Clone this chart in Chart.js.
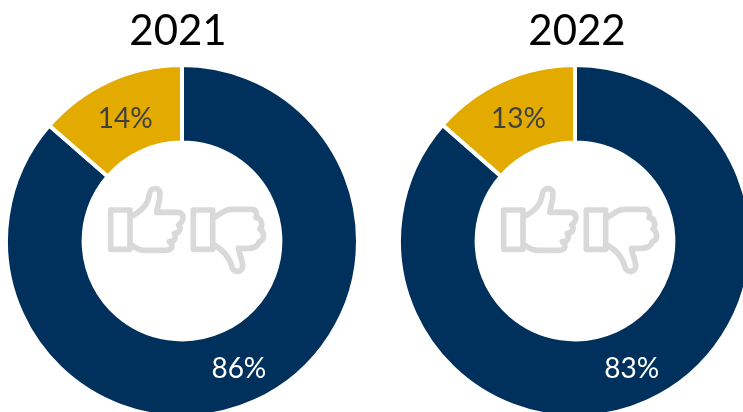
<!DOCTYPE html>
<html>
<head>
<meta charset="utf-8">
<style>
html, body { margin: 0; padding: 0; width: 743px; height: 412px; overflow: hidden; background: #fff; }
canvas { position: absolute; top: 0; }
</style>
<script src="https://cdn.jsdelivr.net/npm/chart.js@4"></script>
</head>
<body>
<canvas id="chart2021" width="360" height="421" style="left:2px"></canvas>
<canvas id="chart2022" width="360" height="421" style="left:395px"></canvas>
<script>
const categories = ['Favorable', 'Unfavorable'];
const values2021 = [86.4, 13.6];
const values2022 = [83, 13];
const sliceColors = ['#00305c', '#e3ab00'];
const labelColors = ['#ffffff', '#404040'];
const labelNudge = [3, 3];

// thumbs drawn in the middle of each ring
const thumbUp = 'M92 120H150V238H92Z M150 142C190 120 205 100 208 72C212 50 240 50 240 72C240 95 232 110 230 127H293C312 127 315 150 296 165C306 178 296 190 283 190C290 205 283 215 268 215C283 228 276 241 256 241H195C175 241 165 232 150 222';
const thumbDown = 'M340 120H398V238H340Z M398 145C420 135 430 118 455 118H515C530 118 532 135 528 143C545 145 550 165 540 177C553 185 556 210 538 215C533 232 520 235 505 235H475C478 255 488 270 488 288C488 308 462 310 456 292C450 265 430 240 398 222';

const ringMarks = {
    id: 'ringMarks',
    afterDatasetsDraw(chart, args, opts) {
        const ctx = chart.ctx;
        const arcs = chart.getDatasetMeta(0).data;
        const data = chart.data.datasets[0].data;
        ctx.save();
        ctx.font = '28px Lato';
        ctx.textAlign = 'center';
        ctx.textBaseline = 'middle';
        arcs.forEach((arc, i) => {
            const pos = arc.tooltipPosition();
            ctx.fillStyle = labelColors[i];
            ctx.fillText(Math.round(data[i]) + '%', pos.x, pos.y + labelNudge[i]);
        });
        ctx.font = '42px Lato';
        ctx.fillStyle = '#000000';
        ctx.fillText(opts.year, opts.yearX, 31);
        ctx.restore();

        ctx.save();
        ctx.translate(78, 170);
        ctx.scale(1 / 3, 1 / 3);
        ctx.strokeStyle = '#d9d9d9';
        ctx.lineWidth = 17;
        ctx.lineJoin = 'round';
        ctx.stroke(new Path2D(thumbUp));
        ctx.stroke(new Path2D(thumbDown));
        ctx.restore();
    }
};

function renderDonut(id, year, yearX, values) {
    new Chart(document.getElementById(id), {
        type: 'doughnut',
        data: {
            labels: categories,
            datasets: [{
                data: values,
                backgroundColor: sliceColors,
                borderColor: '#ffffff',
                borderWidth: 4
            }]
        },
        options: {
            responsive: false,
            animation: false,
            radius: 176,
            cutout: 99.5,
            layout: { padding: { top: 61 } },
            plugins: {
                legend: { display: false },
                tooltip: { enabled: false },
                ringMarks: { year: year, yearX: yearX }
            }
        },
        plugins: [ringMarks]
    });
}

renderDonut('chart2021', '2021', 176, values2021);
renderDonut('chart2022', '2022', 182, values2022);
</script>
</body>
</html>
